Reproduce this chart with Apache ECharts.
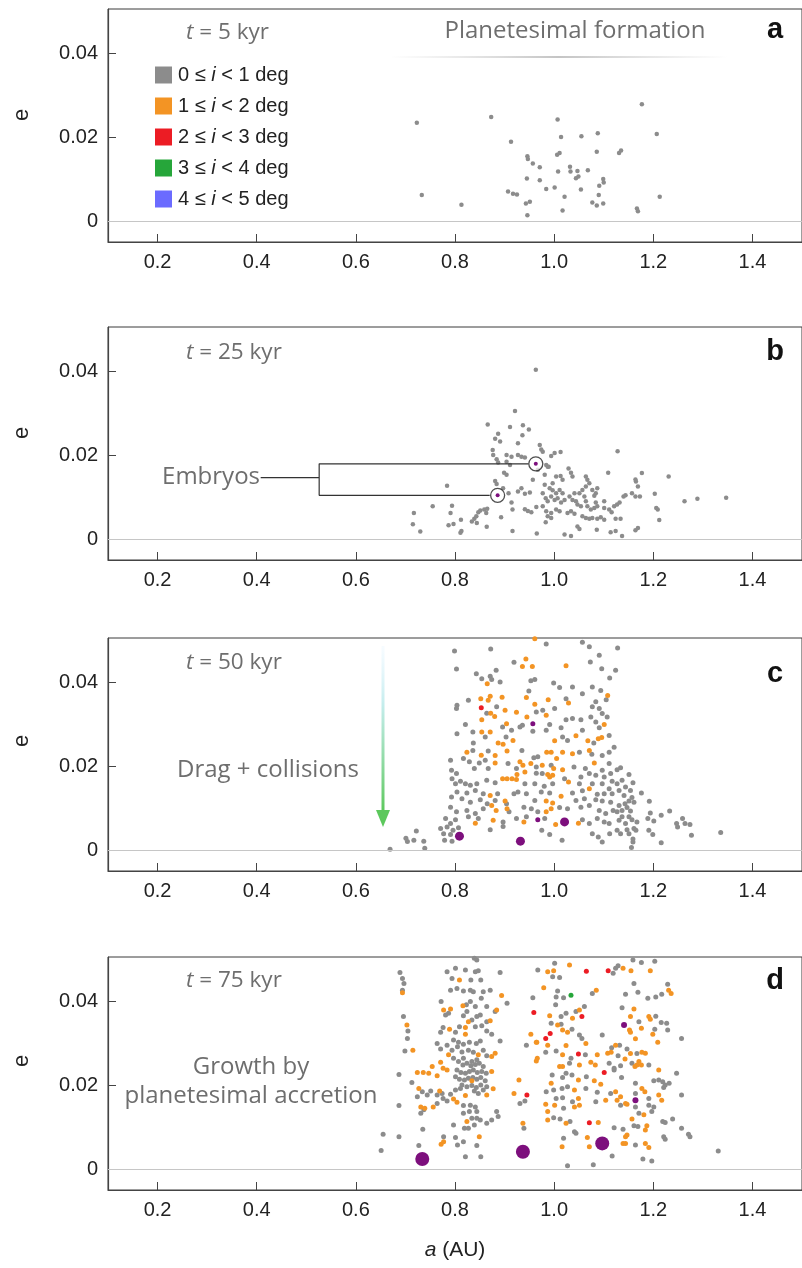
<!DOCTYPE html>
<html>
<head>
<meta charset="utf-8">
<script src="https://cdn.jsdelivr.net/npm/echarts@6/dist/echarts.min.js"></script>
<style>
  html, body { margin: 0; padding: 0; background: #fff; }
  #chart { width: 802px; height: 1268px; }
</style>
</head>
<body>
<div id="chart"></div>
<script>
// tick values
var xTicks = [0.2, 0.4, 0.6, 0.8, 1.0, 1.2, 1.4];
var yTicks = [0, 0.02, 0.04];

// legend bins (inclination)
var binNames = ['0 ≤ i < 1 deg', '1 ≤ i < 2 deg', '2 ≤ i < 3 deg', '3 ≤ i < 4 deg', '4 ≤ i < 5 deg'];
var binColors = ['#8c8c8c', '#f39424', '#ec1c24', '#26a63a', '#6b6bff'];
var embryoColor = '#7d0f7d';

// panel a, t = 5 kyr  [a (AU), e]
var aGray = [
  [0.723,0.0234],[0.733,0.0062],[0.813,0.0039],[0.873,0.0248],[0.913,0.0189],[0.907,0.0070],[0.917,0.0065],[0.925,0.0063],
  [0.946,0.0154],[0.947,0.0148],[0.957,0.0137],[0.971,0.0128],[0.945,0.0101],[0.971,0.0097],[0.943,0.0042],[0.951,0.0046],
  [0.946,0.0014],[0.984,0.0076],[1.001,0.0080],[1.007,0.0242],[1.014,0.0200],[1.006,0.0158],[1.011,0.0162],[1.008,0.0118],
  [1.021,0.0058],[1.017,0.0025],[1.032,0.0129],[1.033,0.0118],[1.047,0.0119],[1.044,0.0102],[1.049,0.0106],[1.055,0.0202],
  [1.054,0.0075],[1.068,0.0121],[1.077,0.0044],[1.086,0.0037],[1.099,0.0042],[1.088,0.0209],[1.086,0.0165],[1.091,0.0084],
  [1.090,0.0062],[1.099,0.0100],[1.100,0.0092],[1.131,0.0162],[1.135,0.0168],[1.167,0.0030],[1.169,0.0023],[1.177,0.0278],
  [1.207,0.0207],[1.213,0.0058]
];

// panel b, t = 25 kyr
var bGray = [
  [0.717,0.0062],[0.715,0.0035],[0.730,0.0018],[0.755,0.0078],[0.784,0.0127],[0.791,0.0062],[0.794,0.0079],[0.787,0.0033],
  [0.797,0.0036],[0.811,0.0015],[0.813,0.0019],[0.812,0.0046],[0.834,0.0042],[0.839,0.0048],[0.843,0.0054],[0.847,0.0064],
  [0.851,0.0068],[0.859,0.0070],[0.865,0.0072],[0.863,0.0062],[0.844,0.0038],[0.864,0.0029],[0.866,0.0273],[0.881,0.0239],
  [0.887,0.0251],[0.891,0.0232],[0.876,0.0212],[0.877,0.0200],[0.884,0.0190],[0.887,0.0182],[0.881,0.0138],[0.884,0.0131],
  [0.893,0.0052],[0.899,0.0158],[0.904,0.0153],[0.911,0.0267],[0.921,0.0305],[0.937,0.0271],[0.949,0.0261],[0.936,0.0247],
  [0.927,0.0228],[0.904,0.0200],[0.914,0.0196],[0.927,0.0200],[0.934,0.0196],[0.941,0.0194],[0.904,0.0184],[0.911,0.0176],
  [0.963,0.0403],[0.971,0.0224],[0.974,0.0213],[0.977,0.0208],[0.994,0.0198],[1.001,0.0205],[1.013,0.0207],[0.984,0.0176],
  [0.989,0.0172],[0.897,0.0121],[0.908,0.0109],[0.914,0.0087],[0.916,0.0070],[0.916,0.0019],[0.927,0.0113],[0.934,0.0121],
  [0.941,0.0108],[0.951,0.0111],[0.941,0.0071],[0.947,0.0067],[0.954,0.0064],[0.957,0.0141],[0.964,0.0076],[0.965,0.0013],
  [0.977,0.0109],[0.983,0.0097],[0.987,0.0090],[0.981,0.0129],[0.997,0.0133],[0.991,0.0121],[0.997,0.0116],[1.004,0.0109],
  [1.011,0.0117],[1.017,0.0109],[0.994,0.0101],[1.001,0.0093],[1.007,0.0097],[1.014,0.0087],[1.021,0.0093],[0.977,0.0078],
  [0.984,0.0066],[0.994,0.0062],[1.004,0.0070],[1.011,0.0066],[0.987,0.0054],[0.994,0.0050],[0.983,0.0040],[1.004,0.0149],
  [1.013,0.0150],[1.017,0.0141],[1.029,0.0168],[1.034,0.0158],[1.037,0.0149],[1.021,0.0011],[1.034,0.0007],[1.027,0.0062],
  [1.034,0.0066],[1.041,0.0060],[1.031,0.0101],[1.037,0.0093],[1.044,0.0090],[1.047,0.0082],[1.041,0.0109],[1.051,0.0109],
  [1.057,0.0117],[1.061,0.0101],[1.064,0.0090],[1.054,0.0078],[1.067,0.0078],[1.074,0.0070],[1.081,0.0074],[1.087,0.0078],
  [1.084,0.0087],[1.064,0.0149],[1.067,0.0141],[1.071,0.0133],[1.064,0.0125],[1.077,0.0117],[1.084,0.0109],[1.087,0.0121],
  [1.081,0.0103],[1.057,0.0054],[1.064,0.0050],[1.071,0.0048],[1.077,0.0050],[1.087,0.0048],[1.094,0.0052],[1.101,0.0046],
  [1.047,0.0030],[1.051,0.0024],[1.086,0.0022],[1.101,0.0090],[1.101,0.0074],[1.109,0.0158],[1.111,0.0070],[1.116,0.0064],
  [1.121,0.0078],[1.127,0.0082],[1.132,0.0087],[1.140,0.0101],[1.144,0.0104],[1.124,0.0048],[1.134,0.0048],[1.114,0.0016],
  [1.124,0.0019],[1.137,0.0007],[1.128,0.0209],[1.157,0.0109],[1.164,0.0101],[1.165,0.0137],[1.164,0.0142],[1.169,0.0125],
  [1.173,0.0101],[1.177,0.0157],[1.164,0.0021],[1.169,0.0026],[1.203,0.0108],[1.206,0.0074],[1.209,0.0070],[1.212,0.0045],
  [1.231,0.0149],[1.263,0.0090],[1.289,0.0096],[1.347,0.0098],[0.967,0.0165],[0.987,0.0172],[0.981,0.0153]
];
var bEmbryos = [[0.963,0.0179],[0.886,0.0104]];
// bracket for the "Embryos" label
var bBracket = [[0.408,0.0146],[0.526,0.0146],'-',[0.948,0.0179],[0.526,0.0179],[0.526,0.0104],[0.870,0.0104]];

// panel c, t = 50 kyr
var cGray = [
  [0.984,0.0491],[1.057,0.0495],[1.071,0.0484],[0.799,0.0474],[0.872,0.0479],[1.091,0.0464],[0.919,0.0447],[1.073,0.0448],
  [0.803,0.0431],[0.883,0.0428],[0.843,0.0420],[1.096,0.0432],[0.854,0.0408],[0.871,0.0414],[0.874,0.0406],[0.953,0.0403],
  [0.961,0.0406],[1.112,0.0410],[0.891,0.0400],[0.949,0.0379],[0.999,0.0398],[1.011,0.0387],[1.037,0.0388],[1.077,0.0388],
  [1.094,0.0380],[1.057,0.0372],[1.024,0.0360],[0.827,0.0357],[0.804,0.0345],[1.084,0.0353],[1.105,0.0358],[0.803,0.0337],
  [0.977,0.0333],[1.001,0.0337],[1.077,0.0341],[1.091,0.0337],[1.097,0.0325],[0.864,0.0326],[0.884,0.0341],[0.964,0.0329],
  [0.991,0.0299],[1.024,0.0310],[1.037,0.0313],[1.054,0.0310],[1.074,0.0317],[1.084,0.0305],[1.107,0.0317],[0.821,0.0299],
  [0.896,0.0293],[0.804,0.0277],[0.836,0.0281],[0.914,0.0285],[0.931,0.0293],[0.936,0.0297],[0.957,0.0283],[0.984,0.0285],
  [1.014,0.0291],[1.057,0.0285],[1.091,0.0291],[0.903,0.0269],[0.837,0.0255],[0.861,0.0269],[1.017,0.0269],[1.027,0.0261],
  [1.080,0.0255],[1.111,0.0273],[1.121,0.0245],[0.836,0.0237],[0.867,0.0236],[0.935,0.0237],[0.959,0.0220],[0.967,0.0222],
  [1.051,0.0233],[1.076,0.0228],[1.097,0.0225],[1.111,0.0233],[0.791,0.0214],[0.817,0.0218],[0.829,0.0210],[0.849,0.0207],
  [0.861,0.0214],[0.964,0.0198],[0.994,0.0202],[1.040,0.0198],[1.063,0.0194],[1.097,0.0190],[1.111,0.0206],[0.793,0.0190],
  [0.803,0.0182],[0.839,0.0194],[0.867,0.0194],[0.907,0.0206],[0.924,0.0194],[0.964,0.0183],[0.976,0.0182],[1.021,0.0170],
  [1.054,0.0174],[1.071,0.0182],[1.084,0.0178],[1.101,0.0174],[1.114,0.0182],[1.117,0.0164],[0.794,0.0170],[0.801,0.0158],
  [0.811,0.0164],[0.821,0.0158],[0.831,0.0154],[0.844,0.0158],[0.864,0.0166],[0.881,0.0160],[0.941,0.0158],[0.961,0.0158],
  [0.980,0.0152],[0.997,0.0158],[1.051,0.0158],[1.077,0.0158],[1.097,0.0158],[1.111,0.0146],[0.804,0.0138],[0.824,0.0136],
  [0.841,0.0142],[0.857,0.0134],[0.886,0.0134],[0.919,0.0134],[0.927,0.0138],[0.944,0.0134],[0.974,0.0138],[0.991,0.0136],
  [1.037,0.0136],[1.057,0.0141],[1.087,0.0133],[1.101,0.0134],[1.117,0.0134],[0.793,0.0126],[0.814,0.0122],[0.831,0.0114],
  [0.851,0.0120],[0.865,0.0110],[0.881,0.0118],[0.904,0.0110],[0.961,0.0118],[1.044,0.0118],[1.061,0.0122],[1.084,0.0120],
  [1.097,0.0117],[1.114,0.0114],[0.791,0.0102],[0.803,0.0091],[0.824,0.0094],[0.841,0.0087],[0.857,0.0098],[0.909,0.0091],
  [0.939,0.0102],[0.954,0.0098],[0.967,0.0091],[1.011,0.0101],[1.027,0.0098],[1.054,0.0102],[1.071,0.0106],[1.091,0.0094],
  [1.104,0.0087],[1.119,0.0094],[0.781,0.0075],[0.801,0.0072],[0.791,0.0063],[0.827,0.0079],[0.847,0.0075],[0.897,0.0067],
  [0.924,0.0075],[0.944,0.0079],[0.981,0.0075],[1.057,0.0072],[1.071,0.0063],[1.087,0.0075],[1.101,0.0067],[1.111,0.0063],
  [0.771,0.0051],[0.784,0.0055],[0.796,0.0047],[0.807,0.0053],[0.871,0.0048],[0.897,0.0056],[0.777,0.0039],[0.791,0.0037],
  [0.779,0.0023],[0.794,0.0021],[0.975,0.0047],[0.991,0.0037],[1.016,0.0023],[1.077,0.0039],[1.089,0.0031],[1.112,0.0039],
  [1.097,0.0019],
  [1.128,0.0481],[1.124,0.0428],[1.134,0.0196],[1.127,0.0191],[1.151,0.0180],[1.159,0.0160],[1.137,0.0166],[1.127,0.0158],
  [1.144,0.0150],[1.154,0.0142],[1.131,0.0142],[1.141,0.0130],[1.157,0.0125],[1.176,0.0136],[1.151,0.0117],[1.143,0.0110],
  [1.131,0.0106],[1.147,0.0101],[1.161,0.0114],[1.154,0.0093],[1.137,0.0094],[1.127,0.0091],[1.137,0.0079],[1.151,0.0079],
  [1.131,0.0071],[1.144,0.0063],[1.157,0.0072],[1.167,0.0067],[1.161,0.0051],[1.147,0.0048],[1.134,0.0039],[1.127,0.0047],
  [1.151,0.0039],[1.159,0.0026],[1.159,0.0019],[1.156,0.0006],[1.165,0.0047],[1.192,0.0116],[1.189,0.0075],[1.194,0.0088],
  [1.201,0.0069],[1.216,0.0083],[1.233,0.0093],[1.191,0.0047],[1.199,0.0037],[1.216,0.0017],[1.247,0.0063],[1.249,0.0055],
  [1.259,0.0075],[1.264,0.0063],[1.274,0.0061],[1.277,0.0035],[1.336,0.0042],
  [0.669,0.0002],[0.701,0.0028],[0.704,0.0020],[0.717,0.0023],[0.722,0.0045],[0.737,0.0021],[0.739,0.0004]
];
var cOrange = [
  [0.961,0.0503],[0.943,0.0455],[0.936,0.0437],[0.956,0.0437],[1.024,0.0439],[0.865,0.0396],[1.108,0.0368],[0.871,0.0366],
  [0.852,0.0360],[0.867,0.0357],[0.895,0.0364],[0.944,0.0363],[0.961,0.0347],[0.988,0.0358],[1.029,0.0350],[0.872,0.0326],
  [0.880,0.0318],[0.901,0.0333],[0.924,0.0328],[0.984,0.0321],[0.854,0.0310],[0.945,0.0317],[1.101,0.0299],[0.904,0.0301],
  [0.854,0.0281],[0.871,0.0281],[1.096,0.0268],[0.917,0.0261],[0.887,0.0255],[0.897,0.0252],[1.001,0.0260],[1.044,0.0272],
  [1.068,0.0260],[1.089,0.0265],[0.824,0.0233],[0.853,0.0226],[0.881,0.0225],[0.905,0.0236],[0.985,0.0233],[0.994,0.0233],
  [1.005,0.0218],[1.017,0.0233],[1.037,0.0229],[1.071,0.0237],[0.881,0.0207],[0.931,0.0210],[0.937,0.0202],[0.953,0.0206],
  [0.976,0.0202],[0.999,0.0194],[1.017,0.0191],[1.081,0.0207],[0.941,0.0186],[0.896,0.0170],[0.905,0.0170],[0.915,0.0170],
  [0.925,0.0180],[0.924,0.0168],[0.987,0.0180],[0.991,0.0174],[0.997,0.0178],[1.029,0.0162],[0.871,0.0130],[1.014,0.0128],
  [1.071,0.0146],[0.901,0.0117],[0.984,0.0117],[0.997,0.0112],[0.874,0.0106],[0.883,0.0094],[0.905,0.0098],[0.984,0.0091],
  [0.994,0.0098],[0.877,0.0071],[0.939,0.0067],[1.003,0.0061],[1.049,0.0064],[0.841,0.0064]
];
var cRed = [[0.853,0.0339]];
var cEmbryoSmall = [[0.957,0.0301],[0.967,0.0072]];
var cEmbryoBig = [[0.809,0.0033],[0.932,0.0021],[1.021,0.0067]];

// panel d, t = 75 kyr
var dGray = [
  [0.689,0.0468],[0.694,0.0454],[0.697,0.0442],[0.694,0.0426],[0.696,0.0363],[0.705,0.0329],[0.704,0.0311],[0.699,0.0281],
  [0.687,0.0225],[0.687,0.0151],[0.687,0.0077],[0.727,0.0056],[0.735,0.0095],[0.839,0.0502],[0.844,0.0498],[0.784,0.0470],
  [0.801,0.0478],[0.821,0.0474],[0.832,0.0450],[0.841,0.0470],[0.847,0.0472],[0.852,0.0450],[0.794,0.0454],[0.804,0.0430],
  [0.791,0.0426],[0.817,0.0424],[0.831,0.0426],[0.837,0.0422],[0.857,0.0422],[0.871,0.0426],[0.891,0.0468],[0.772,0.0399],
  [0.787,0.0371],[0.823,0.0391],[0.831,0.0399],[0.841,0.0387],[0.853,0.0407],[0.864,0.0387],[0.881,0.0375],[0.905,0.0395],
  [0.824,0.0375],[0.817,0.0365],[0.834,0.0355],[0.844,0.0363],[0.851,0.0367],[0.864,0.0351],[0.781,0.0367],[0.776,0.0337],
  [0.771,0.0326],[0.801,0.0326],[0.809,0.0339],[0.841,0.0339],[0.854,0.0341],[0.874,0.0321],[0.864,0.0329],[0.891,0.0305],
  [0.797,0.0307],[0.807,0.0302],[0.817,0.0297],[0.829,0.0302],[0.843,0.0299],[0.851,0.0305],[0.794,0.0283],[0.805,0.0291],
  [0.814,0.0279],[0.827,0.0283],[0.837,0.0278],[0.857,0.0283],[0.864,0.0270],[0.764,0.0299],[0.784,0.0295],[0.771,0.0286],
  [0.797,0.0264],[0.817,0.0264],[0.824,0.0252],[0.834,0.0256],[0.844,0.0260],[0.807,0.0256],[0.816,0.0248],[0.832,0.0246],
  [0.841,0.0249],[0.849,0.0252],[0.857,0.0244],[0.804,0.0236],[0.812,0.0230],[0.821,0.0228],[0.829,0.0232],[0.837,0.0236],
  [0.845,0.0230],[0.854,0.0232],[0.863,0.0228],[0.801,0.0220],[0.809,0.0214],[0.819,0.0212],[0.827,0.0216],[0.836,0.0218],
  [0.844,0.0214],[0.852,0.0218],[0.861,0.0210],[0.814,0.0200],[0.824,0.0196],[0.834,0.0199],[0.843,0.0194],[0.852,0.0200],
  [0.864,0.0196],[0.713,0.0206],[0.724,0.0172],[0.734,0.0184],[0.744,0.0176],[0.751,0.0186],[0.764,0.0176],[0.774,0.0180],
  [0.784,0.0162],[0.731,0.0133],[0.737,0.0141],[0.801,0.0188],[0.811,0.0192],[0.839,0.0186],[0.847,0.0180],[0.857,0.0188],
  [0.764,0.0156],[0.776,0.0168],[0.791,0.0178],[0.817,0.0151],[0.831,0.0152],[0.841,0.0148],[0.844,0.0137],[0.829,0.0137],
  [0.817,0.0133],[0.834,0.0121],[0.844,0.0121],[0.827,0.0097],[0.839,0.0105],[0.851,0.0117],[0.864,0.0109],[0.874,0.0117],
  [0.884,0.0137],[0.887,0.0125],[0.797,0.0105],[0.819,0.0097],[0.801,0.0075],[0.817,0.0065],[0.844,0.0056],[0.777,0.0077],
  [0.805,0.0057],[0.821,0.0029],[0.852,0.0029],[0.939,0.0097],[0.931,0.0156],[0.941,0.0162],[0.944,0.0295],[0.967,0.0474],
  [0.957,0.0408],
  [1.001,0.0490],[0.997,0.0458],[1.011,0.0456],[1.119,0.0466],[1.124,0.0478],[1.129,0.0484],[1.159,0.0498],[1.176,0.0492],
  [1.203,0.0495],[1.007,0.0424],[1.004,0.0410],[1.019,0.0408],[1.077,0.0418],[1.144,0.0416],[1.161,0.0442],[1.169,0.0421],
  [1.189,0.0407],[1.205,0.0410],[1.217,0.0416],[1.229,0.0440],[1.003,0.0391],[1.014,0.0363],[1.024,0.0371],[1.044,0.0375],
  [1.061,0.0387],[1.137,0.0384],[1.205,0.0364],[1.171,0.0351],[1.216,0.0349],[1.227,0.0347],[0.994,0.0347],[1.014,0.0345],
  [1.036,0.0333],[1.051,0.0319],[1.056,0.0311],[1.097,0.0319],[1.203,0.0333],[1.229,0.0331],[1.257,0.0311],[1.132,0.0295],
  [1.116,0.0289],[1.147,0.0286],[1.167,0.0275],[0.983,0.0278],[1.004,0.0281],[1.034,0.0264],[1.063,0.0272],[1.129,0.0270],
  [1.157,0.0252],[1.191,0.0248],[1.031,0.0252],[1.111,0.0252],[1.121,0.0240],[1.134,0.0246],[0.996,0.0224],[1.017,0.0218],
  [1.024,0.0228],[1.036,0.0224],[1.065,0.0220],[1.121,0.0236],[1.136,0.0218],[1.164,0.0204],[1.201,0.0210],[1.211,0.0212],
  [1.219,0.0208],[1.224,0.0200],[1.221,0.0194],[1.232,0.0204],[1.247,0.0228],[0.984,0.0184],[0.999,0.0188],[1.016,0.0192],
  [1.027,0.0196],[1.064,0.0192],[1.087,0.0183],[1.114,0.0180],[1.164,0.0180],[1.191,0.0168],[1.257,0.0176],[1.004,0.0168],
  [1.017,0.0170],[1.019,0.0145],[1.037,0.0160],[1.084,0.0160],[1.134,0.0152],[1.164,0.0148],[1.171,0.0133],[1.197,0.0137],
  [1.201,0.0148],[1.191,0.0152],[0.999,0.0122],[1.012,0.0119],[1.032,0.0113],[1.041,0.0089],[1.044,0.0085],[1.121,0.0098],
  [1.139,0.0095],[1.161,0.0103],[1.169,0.0101],[1.219,0.0113],[1.224,0.0111],[1.239,0.0119],[1.257,0.0097],[1.271,0.0083],
  [1.274,0.0077],[1.221,0.0077],[1.224,0.0071],[1.019,0.0073],[1.164,0.0057],[1.117,0.0031],[1.079,0.0010],[1.027,0.0008],
  [1.179,0.0024],[1.197,0.0019],
  [0.651,0.0044],[0.655,0.0083],[1.331,0.0043]
];
var dOrange = [
  [0.694,0.0420],[0.703,0.0343],[0.715,0.0283],[0.791,0.0506],[0.809,0.0450],[0.894,0.0413],[0.777,0.0379],[0.791,0.0381],
  [0.816,0.0389],[0.884,0.0379],[0.871,0.0353],[0.789,0.0333],[0.821,0.0337],[0.827,0.0351],[0.821,0.0321],[0.847,0.0272],
  [0.874,0.0268],[0.881,0.0276],[0.787,0.0272],[0.771,0.0254],[0.776,0.0240],[0.754,0.0244],[0.724,0.0230],[0.736,0.0230],
  [0.747,0.0228],[0.764,0.0222],[0.784,0.0236],[0.834,0.0210],[0.874,0.0232],[0.877,0.0191],[0.864,0.0176],[0.797,0.0167],
  [0.804,0.0159],[0.821,0.0175],[0.769,0.0186],[0.727,0.0192],[0.731,0.0148],[0.739,0.0145],[0.756,0.0148],[0.824,0.0113],
  [0.849,0.0077],[0.772,0.0059],[0.777,0.0065],[0.929,0.0212],[0.919,0.0180],[0.937,0.0109],[0.953,0.0321],[0.965,0.0302],
  [0.966,0.0264],
  [1.031,0.0486],[0.987,0.0470],[0.999,0.0472],[1.139,0.0478],[1.155,0.0472],[1.194,0.0472],[0.979,0.0432],[1.085,0.0426],
  [1.236,0.0418],[1.231,0.0426],[0.991,0.0365],[1.037,0.0359],[1.051,0.0379],[1.161,0.0381],[1.154,0.0363],[1.191,0.0363],
  [1.194,0.0357],[1.007,0.0343],[1.017,0.0331],[1.027,0.0326],[1.152,0.0331],[1.154,0.0326],[1.164,0.0310],[1.176,0.0335],
  [1.199,0.0321],[1.209,0.0302],[0.964,0.0302],[0.987,0.0295],[1.024,0.0294],[1.064,0.0299],[1.124,0.0295],[1.154,0.0275],
  [1.177,0.0278],[1.184,0.0276],[1.017,0.0272],[1.087,0.0272],[1.108,0.0276],[1.115,0.0278],[1.143,0.0262],[1.171,0.0256],
  [1.176,0.0248],[1.211,0.0236],[1.011,0.0244],[1.017,0.0244],[1.051,0.0248],[1.074,0.0254],[1.083,0.0248],[1.163,0.0244],
  [1.167,0.0248],[0.964,0.0257],[1.049,0.0212],[1.081,0.0210],[1.094,0.0202],[0.994,0.0204],[1.041,0.0188],[1.104,0.0164],
  [1.124,0.0184],[1.127,0.0164],[1.134,0.0172],[1.144,0.0156],[1.177,0.0192],[1.183,0.0184],[1.211,0.0176],[1.217,0.0164],
  [0.983,0.0154],[0.987,0.0137],[1.001,0.0152],[1.041,0.0148],[1.049,0.0168],[1.051,0.0152],[1.147,0.0154],[1.181,0.0129],
  [0.987,0.0117],[1.024,0.0109],[1.089,0.0111],[1.157,0.0119],[1.187,0.0103],[1.184,0.0093],[1.067,0.0075],[1.016,0.0053],
  [1.071,0.0053],[1.144,0.0077],[1.147,0.0081],[1.139,0.0061],[1.144,0.0061],[1.184,0.0061],[1.191,0.0051]
];
var dRed = [
  [0.945,0.0176],[0.959,0.0373],[1.065,0.0471],[1.109,0.0472],[1.056,0.0363],[0.992,0.0323],[0.983,0.0311],[1.049,0.0274],
  [1.101,0.0230],[1.071,0.0110]
];
var dGreen = [[1.034,0.0414]];
var dEmbryoSmall = [[1.141,0.0343],[1.164,0.0164]];
var dEmbryoBig = [[0.734,0.0024],[0.937,0.0041],[1.097,0.0061]];

var gridTops = [9, 327, 638, 957];
var FONT = "'Liberation Sans', Arial, sans-serif";
var NOTE = "'Open Sans', 'Noto Sans', sans-serif";
var NOTE_COLOR = '#6e6e6e';

var chart = echarts.init(document.getElementById('chart'));

var grids = [], xAxes = [], yAxes = [];
gridTops.forEach(function (t, i) {
  grids.push({ left: 108, top: t, width: 700, height: 233, show: true, borderColor: '#3a3a3a', borderWidth: 1 });
  xAxes.push({
    gridIndex: i, type: 'value', min: 0.1, max: 1.5,
    axisLine: { show: true, onZero: false, lineStyle: { color: '#444', width: 1.2 } },
    axisTick: { show: true, inside: true, length: 8, customValues: xTicks, lineStyle: { color: '#444' } },
    axisLabel: { customValues: xTicks, margin: 10, fontSize: 20, color: '#222', fontFamily: FONT,
      formatter: function (v) { return v.toFixed(1); } },
    splitLine: { show: false }
  });
  yAxes.push({
    gridIndex: i, type: 'value', min: -0.005, max: 0.0505,
    axisLine: { show: true, onZero: false, lineStyle: { color: '#444', width: 1.2 } },
    axisTick: { show: true, inside: true, length: 8, customValues: yTicks, lineStyle: { color: '#444' } },
    axisLabel: { customValues: yTicks, margin: 10, fontSize: 20, color: '#222', fontFamily: FONT,
      formatter: function (v) { return v === 0 ? '0' : v.toFixed(2); } },
    splitLine: { show: false }
  });
});

function dots(name, data, idx, color, size, z) {
  return {
    type: 'scatter', name: name, data: data, xAxisIndex: idx, yAxisIndex: idx,
    symbol: 'circle', symbolSize: size, z: z || 2, silent: true,
    itemStyle: { color: color, opacity: 1 }
  };
}

function zeroLine(s) {
  s.markLine = {
    silent: true, symbol: 'none', label: { show: false },
    lineStyle: { color: '#c6c6c6', width: 1.2, type: 'solid' },
    data: [{ yAxis: 0 }]
  };
  return s;
}

var series = [
  zeroLine(dots(binNames[0], aGray, 0, binColors[0], 4.5)),
  dots(binNames[4], [], 0, binColors[4], 5),

  zeroLine(dots(binNames[0], bGray, 1, binColors[0], 4.5)),
  {
    type: 'line', data: bBracket, xAxisIndex: 1, yAxisIndex: 1, symbol: 'none', silent: true,
    connectNulls: false, lineStyle: { color: '#333', width: 1.2 }, z: 3
  },
  {
    type: 'scatter', name: 'embryo ring', data: bEmbryos, xAxisIndex: 1, yAxisIndex: 1, symbolSize: 14, z: 4, silent: true,
    itemStyle: { color: 'rgba(255,255,255,0.9)', borderColor: '#222', borderWidth: 1.3 }
  },
  dots('embryo', bEmbryos, 1, embryoColor, 4, 5),

  zeroLine(dots(binNames[0], cGray, 2, binColors[0], 5)),
  dots(binNames[1], cOrange, 2, binColors[1], 5, 3),
  dots(binNames[2], cRed, 2, binColors[2], 5, 4),
  dots('embryo', cEmbryoSmall, 2, embryoColor, 5, 5),
  dots('embryo', cEmbryoBig, 2, embryoColor, 9, 5),

  zeroLine(dots(binNames[0], dGray, 3, binColors[0], 5)),
  dots(binNames[1], dOrange, 3, binColors[1], 5, 3),
  dots(binNames[2], dRed, 3, binColors[2], 5, 4),
  dots(binNames[3], dGreen, 3, binColors[3], 5, 4),
  dots('embryo', dEmbryoSmall, 3, embryoColor, 6, 5),
  dots('embryo', dEmbryoBig, 3, embryoColor, 14, 5)
];

function note(x, y, text, extra, size) {
  var fs = size || 24;
  var st = { text: text, fill: NOTE_COLOR, fontSize: fs, fontFamily: NOTE, align: 'left', verticalAlign: 'middle',
    rich: { it: { fontStyle: 'italic', fontSize: fs, fontFamily: NOTE, fill: NOTE_COLOR } } };
  return { type: 'text', x: x, y: y, z: 10, silent: true, style: Object.assign(st, extra || {}) };
}
function letter(y, text) {
  return { type: 'text', x: 775, y: y, z: 10, silent: true,
    style: { text: text, fill: '#111', fontSize: 29, fontWeight: 900, fontFamily: FONT, align: 'center', verticalAlign: 'middle' } };
}
function eName(y) {
  return { type: 'text', x: 22, y: y, rotation: Math.PI / 2, z: 10, silent: true,
    style: { text: 'e', fill: '#222', fontSize: 22, fontFamily: FONT, align: 'center', verticalAlign: 'middle' } };
}

var graphics = [
  note(186, 33, '{it|t} = 5 kyr', null, 22.5),
  note(186, 353, '{it|t} = 25 kyr', null, 22.5),
  note(186, 663, '{it|t} = 50 kyr', null, 22.5),
  note(186, 981, '{it|t} = 75 kyr', null, 22.5),
  note(575, 31, 'Planetesimal formation', { align: 'center' }),
  {
    type: 'rect', z: 9, silent: true, shape: { x: 390, y: 56, width: 338, height: 2 },
    style: { fill: { type: 'linear', x: 0, y: 0, x2: 1, y2: 0, colorStops: [
      { offset: 0, color: 'rgba(200,200,200,0)' }, { offset: 0.5, color: 'rgba(190,190,190,0.9)' }, { offset: 1, color: 'rgba(200,200,200,0)' }] } }
  },
  note(260, 477, 'Embryos', { align: 'right' }),
  note(268, 770, 'Drag + collisions', { align: 'center' }),
  note(251, 1067, 'Growth by', { align: 'center' }),
  note(251, 1096, 'planetesimal accretion', { align: 'center' }),
  {
    type: 'rect', z: 9, silent: true, shape: { x: 381.5, y: 646, width: 3, height: 166 },
    style: { fill: { type: 'linear', x: 0, y: 0, x2: 0, y2: 1, colorStops: [
      { offset: 0, color: 'rgba(215,240,255,0.2)' }, { offset: 0.35, color: 'rgba(190,235,235,0.9)' }, { offset: 1, color: '#5cc85c' }] } }
  },
  {
    type: 'polygon', z: 9, silent: true, shape: { points: [[376, 810], [390, 810], [383, 827]] },
    style: { fill: '#5cc85c' }
  },
  letter(30, 'a'), letter(352, 'b'), letter(674, 'c'), letter(981, 'd'),
  eName(115), eName(433), eName(741), eName(1061),
  { type: 'text', x: 455, y: 1250, z: 10, silent: true,
    style: { text: '{it|a} (AU)', fill: '#222', fontSize: 21, fontFamily: FONT, align: 'center', verticalAlign: 'middle',
      rich: { it: { fontStyle: 'italic', fontSize: 21, fontFamily: FONT, fill: '#222' } } } }
];

chart.setOption({
  animation: false,
  backgroundColor: '#fff',
  grid: grids,
  xAxis: xAxes,
  yAxis: yAxes,
  legend: {
    data: binNames, orient: 'vertical', left: 150, top: 60, itemGap: 11, itemWidth: 17, itemHeight: 17,
    icon: 'rect', selectedMode: false,
    formatter: function (name) {
      var p = name.split(' i ');
      return '{n|' + p[0] + ' }{i|i}{n| ' + p[1] + '}';
    },
    textStyle: {
      padding: [0, 0, 0, 1],
      rich: {
        n: { fontSize: 20, color: '#222', fontFamily: FONT },
        i: { fontSize: 20, color: '#222', fontFamily: FONT, fontStyle: 'italic' }
      }
    }
  },
  graphic: graphics,
  series: series
});
</script>
</body>
</html>
